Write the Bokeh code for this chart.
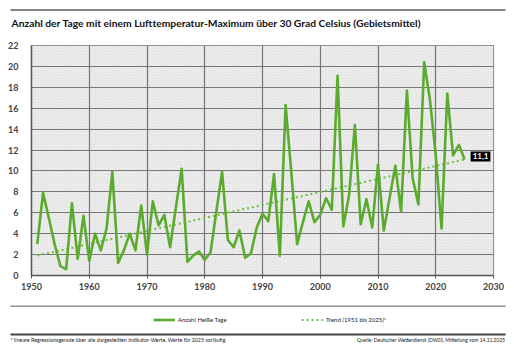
from bokeh.plotting import figure
from bokeh.models import Range1d, BoxAnnotation, Label, Legend, LegendItem, FixedTicker
from bokeh.layouts import column
from bokeh.core.properties import value
from bokeh.embed import file_html
from bokeh.resources import INLINE

# ---------------- data ----------------
years = list(range(1951, 2026))
hot_days = [
    3.0, 7.9, 5.5, 3.0, 0.9, 0.6, 6.9, 1.6, 5.7, 1.4,      # 1951-1960
    4.0, 2.4, 4.5, 9.9, 1.2, 2.4, 4.0, 2.4, 6.7, 2.0,      # 1961-1970
    7.1, 4.8, 5.8, 2.7, 6.5, 10.2, 1.3, 1.9, 2.3, 1.5,     # 1971-1980
    2.2, 6.1, 9.9, 3.4, 2.7, 4.3, 1.7, 2.1, 4.6, 5.9,      # 1981-1990
    5.2, 9.7, 1.9, 16.3, 9.8, 3.0, 5.1, 7.1, 5.1, 5.8,     # 1991-2000
    7.4, 6.3, 19.1, 4.7, 7.7, 14.4, 4.9, 7.3, 4.6, 10.6,   # 2001-2010
    4.3, 7.4, 10.5, 6.1, 17.7, 9.3, 6.8, 20.4, 16.8, 11.5, # 2011-2020
    4.5, 17.4, 11.5, 12.5, 11.1,                           # 2021-2025
]
trend_years = [1951, 2025]
trend_values = [1.9, 11.1]
x_ticks = [1950, 1960, 1970, 1980, 1990, 2000, 2010, 2020, 2030]
y_ticks = [0, 2, 4, 6, 8, 10, 12, 14, 16, 18, 20, 22]

title_text = "Anzahl der Tage mit einem Lufttemperatur-Maximum über 30 Grad Celsius (Gebietsmittel)"
series_label = "Anzahl Heiße Tage"
trend_label = "Trend (1951 bis 2025)*"
footnote_text = "* lineare Regressionsgerade über alle dargestellten Indikator-Werte, Werte für 2025 vorläufig"
source_text = "Quelle: Deutscher Wetterdienst (DWD), Mitteilung vom 14.11.2025"

GREEN = "#5aab2e"
TREND_GREEN = "#6cbf3c"
FONT = "Lato"

def blank(h):
    f = figure(width=514, height=h, x_range=Range1d(0, 514), y_range=Range1d(0, h),
               output_backend="svg", toolbar_location=None, frame_align=False,
               min_border=0, min_border_left=0, min_border_right=0,
               min_border_top=0, min_border_bottom=0)
    f.xaxis.visible = False
    f.yaxis.visible = False
    f.xgrid.visible = False
    f.ygrid.visible = False
    f.outline_line_color = None
    f.background_fill_color = "white"
    f.border_fill_color = "white"
    return f

# ---------------- header ----------------
head = blank(40)
head.line(x=[10, 505], y=[30.5, 30.5], line_color="#858585", line_width=2.2)
head.text(x=[11], y=[18], text=[title_text], text_font=value(FONT), text_font_style="bold",
          text_font_size="10.3px", text_color="#111111", text_baseline="middle", text_align="left")

# ---------------- main chart ----------------
p = figure(width=514, height=256, x_range=Range1d(1950, 2030), y_range=Range1d(0, 22),
           output_backend="svg", toolbar_location=None, frame_align=False,
           min_border_left=31, min_border_right=21, min_border_top=5, min_border_bottom=21)
p.background_fill_color = "#f1f1f1"
p.border_fill_color = "white"
p.outline_line_color = "#666666"
p.outline_line_width = 1.2

bg = BoxAnnotation(fill_color="#f1f1f1", fill_alpha=1.0, line_color=None,
                   hatch_pattern="right_diagonal_line", hatch_color="#d9d9d9",
                   hatch_scale=3, hatch_weight=0.6, level="image")
p.add_layout(bg)

p.xaxis.ticker = FixedTicker(ticks=x_ticks)
p.yaxis.ticker = FixedTicker(ticks=y_ticks)
p.xgrid.ticker = FixedTicker(ticks=x_ticks)
p.ygrid.ticker = FixedTicker(ticks=y_ticks)
for g in (p.xgrid, p.ygrid):
    g.grid_line_color = "#777777"
    g.grid_line_width = 1.2

for ax in (p.xaxis, p.yaxis):
    ax.axis_line_color = "#555555"
    ax.axis_line_width = 1.5
    ax.major_label_text_font = FONT
    ax.major_label_text_font_style = "bold"
    ax.major_label_text_font_size = "9px"
    ax.major_label_text_color = "#444444"
    ax.minor_tick_line_color = None
p.xaxis.major_tick_line_color = "#555555"
p.xaxis.major_tick_out = 3
p.xaxis.major_tick_in = 0
p.xaxis.major_label_standoff = 4
p.yaxis.major_tick_line_color = None
p.yaxis.major_label_standoff = 7

trend = p.line(trend_years, trend_values, line_color=TREND_GREEN, line_width=2, line_dash="2 3")
series = p.line(years, hot_days, line_color=GREEN, line_width=2.6, line_join="round")

last_label = Label(x=years[-1], y=hot_days[-1], text=f"{hot_days[-1]:.1f}".replace(".", ","),
                   x_offset=6, y_offset=3, text_baseline="middle", text_align="left",
                   text_color="white", text_font=FONT, text_font_style="bold",
                   text_font_size="8px", background_fill_color="black", padding=2)
p.add_layout(last_label)

# ---------------- footer ----------------
foot = blank(56)
foot.line(x=[10, 505], y=[46.3, 46.3], line_color="#909090", line_width=1.6)
foot.line(x=[10, 505], y=[18, 18], line_color="#444444", line_width=2)
# legend sample renderers (kept outside the visible range of the footer)
r1 = foot.line(x=[-50, -40], y=[-50, -50], line_color=GREEN, line_width=2.6)
r2 = foot.line(x=[-50, -40], y=[-50, -50], line_color=TREND_GREEN, line_width=2, line_dash="2 3")
for rend, lab, xpos in ((r1, series_label, 153), (r2, trend_label, 301)):
    lg = Legend(items=[LegendItem(label=lab, renderers=[rend])], location=(xpos, 28),
                orientation="horizontal", padding=0, margin=0, spacing=0,
                glyph_width=22, glyph_height=9, label_height=9, label_standoff=3,
                label_text_font=FONT, label_text_font_size="6px", label_text_color="#222222",
                border_line_color=None, background_fill_alpha=0)
    foot.add_layout(lg)
foot.text(x=[10], y=[12.5], text=[footnote_text], text_font=value(FONT), text_font_size="5.3px",
          text_color="#222222", text_baseline="middle", text_align="left")
foot.text(x=[505], y=[12.5], text=[source_text], text_font=value(FONT), text_font_size="5px",
          text_color="#222222", text_baseline="middle", text_align="right")

layout = column(head, p, foot, spacing=0)
open("out.html", "w").write(file_html(layout, INLINE))
